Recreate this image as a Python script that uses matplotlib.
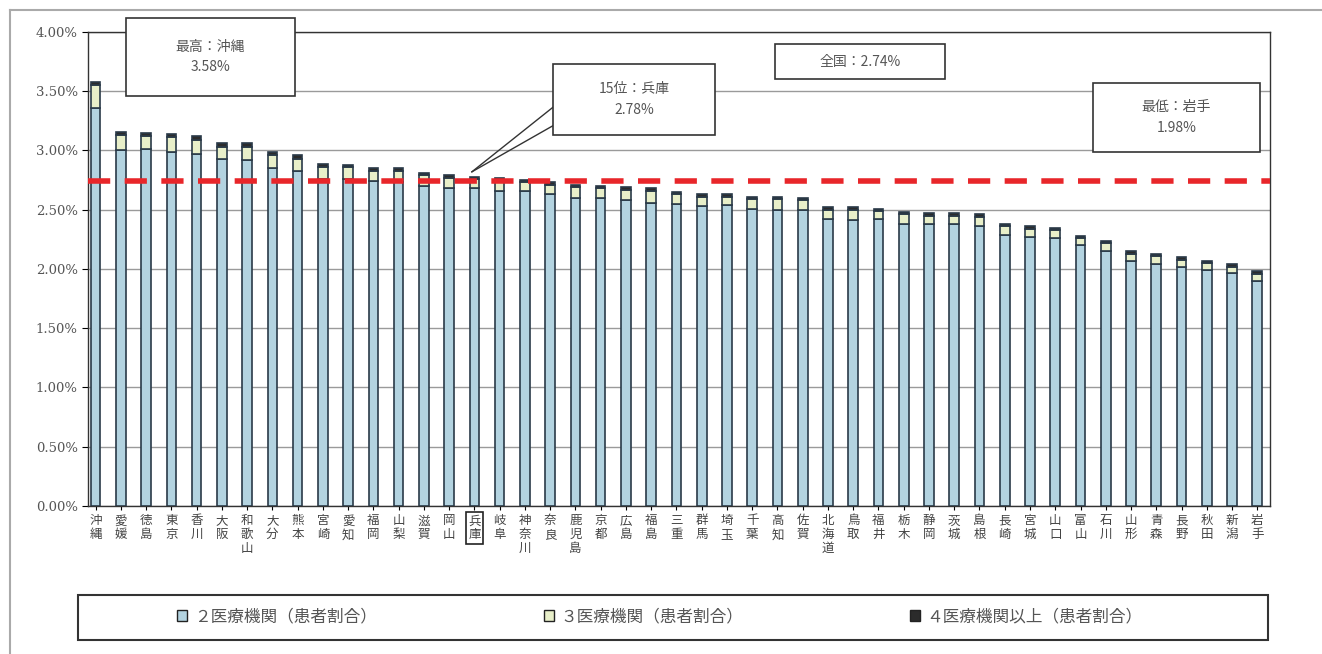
import matplotlib.pyplot as plt
from matplotlib.patches import Patch, Rectangle
from matplotlib.lines import Line2D

plt.rcParams["font.family"] = ["Noto Sans CJK JP", "DejaVu Sans"]

prefs = ["沖縄", "愛媛", "徳島", "東京", "香川", "大阪", "和歌山", "大分", "熊本", "宮崎",
         "愛知", "福岡", "山梨", "滋賀", "岡山", "兵庫", "岐阜", "神奈川", "奈良", "鹿児島",
         "京都", "広島", "福島", "三重", "群馬", "埼玉", "千葉", "高知", "佐賀", "北海道",
         "鳥取", "福井", "栃木", "静岡", "茨城", "島根", "長崎", "宮城", "山口", "富山",
         "石川", "山形", "青森", "長野", "秋田", "新潟", "岩手"]

# share of patients (%) by number of institutions visited
two_inst = [3.36, 3.00, 3.01, 2.99, 2.97, 2.93, 2.92, 2.85, 2.83, 2.76,
            2.76, 2.74, 2.73, 2.70, 2.68, 2.68, 2.66, 2.66, 2.63, 2.60,
            2.60, 2.58, 2.56, 2.55, 2.53, 2.54, 2.51, 2.50, 2.50, 2.42,
            2.41, 2.42, 2.38, 2.38, 2.38, 2.36, 2.29, 2.27, 2.26, 2.20,
            2.15, 2.07, 2.04, 2.02, 1.99, 1.97, 1.90]
three_inst = [0.19, 0.13, 0.11, 0.12, 0.12, 0.10, 0.11, 0.11, 0.10, 0.10,
              0.10, 0.09, 0.10, 0.09, 0.09, 0.08, 0.09, 0.07, 0.08, 0.09,
              0.08, 0.09, 0.10, 0.08, 0.08, 0.07, 0.08, 0.09, 0.08, 0.08,
              0.09, 0.07, 0.08, 0.07, 0.07, 0.08, 0.07, 0.07, 0.07, 0.06,
              0.07, 0.06, 0.07, 0.06, 0.06, 0.05, 0.06]
four_inst = [0.03, 0.03, 0.03, 0.03, 0.03, 0.03, 0.03, 0.03, 0.03, 0.03,
             0.02, 0.02, 0.02, 0.02, 0.02, 0.02, 0.02, 0.02, 0.02, 0.02,
             0.02, 0.02, 0.02, 0.02, 0.02, 0.02, 0.02, 0.02, 0.02, 0.02,
             0.02, 0.02, 0.02, 0.02, 0.02, 0.02, 0.02, 0.02, 0.02, 0.02,
             0.02, 0.02, 0.02, 0.02, 0.02, 0.02, 0.02]
national = 2.74
highlight = "兵庫"
highlight_rank = 15

legend_labels = ["２医療機関（患者割合）", "３医療機関（患者割合）", "４医療機関以上（患者割合）"]
colors = ["#b3d3e0", "#e8efc9", "#2b2b2b"]
edge = "#2a3a48"

W, H = 1322, 654
fig = plt.figure(figsize=(W / 100, H / 100), dpi=100)
ax = fig.add_axes([0.0666, 0.2263, 0.894, 0.7248])

x = list(range(len(prefs)))
w = 0.38
bottom4 = [a + b for a, b in zip(two_inst, three_inst)]
totals = [a + b + c for a, b, c in zip(two_inst, three_inst, four_inst)]
ax.bar(x, two_inst, w, color=colors[0], edgecolor=edge, linewidth=1.2, zorder=3)
ax.bar(x, three_inst, w, bottom=two_inst, color=colors[1], edgecolor=edge, linewidth=1.2, zorder=3)
ax.bar(x, four_inst, w, bottom=bottom4, color=colors[2], edgecolor=edge, linewidth=1.2, zorder=3)

ax.axhline(national, color="#e8262a", lw=4, dashes=(4, 2.6), zorder=4)

ax.set_xlim(-0.3, 46.5)
ax.set_ylim(0, 4.0)
yt = [i * 0.5 for i in range(9)]
ax.set_yticks(yt)
ax.set_yticklabels([f"{v:.2f}%" for v in yt], fontsize=9.5, color="#555555",
                   family=["DejaVu Serif"])
ax.yaxis.grid(True, color="#9a9a9a", lw=1, zorder=0)
ax.set_xticks(x)
ax.set_xticklabels(["\n".join(p) for p in prefs], fontsize=9, color="#444444",
                   linespacing=1.1, va="top")
ax.tick_params(axis="x", length=3, pad=3)
ax.tick_params(axis="y", length=4)
for s in ax.spines.values():
    s.set_color("#333333")
    s.set_linewidth(1)
for lbl in ax.get_xticklabels():
    if lbl.get_text().replace("\n", "") == highlight:
        lbl.set_bbox(dict(boxstyle="square,pad=0.2", fc="none", ec="#222222", lw=1.2))


def note(cx, cy, wd, ht, text):
    ax.add_patch(Rectangle((cx - wd / 2, cy - ht / 2), wd, ht, fc="white", ec="#333333",
                           lw=1.2, clip_on=False, zorder=6))
    ax.text(cx, cy, text, ha="center", va="center", fontsize=10, color="#555555",
            linespacing=1.6, zorder=7)


imax = totals.index(max(totals))
imin = totals.index(min(totals))
ih = prefs.index(highlight)
note(4.55, 3.79, 6.7, 0.66, f"最高：{prefs[imax]}\n{totals[imax]:.2f}%")
note(21.33, 3.43, 6.4, 0.60, f"{highlight_rank}位：{highlight}\n{totals[ih]:.2f}%")
note(30.27, 3.75, 6.7, 0.30, f"全国：{national:.2f}%")
note(42.8, 3.28, 6.6, 0.58, f"最低：{prefs[imin]}\n{totals[imin]:.2f}%")

# callout wedge for highlighted prefecture
for yy in (3.38, 3.22):
    ax.plot([18.2, ih - 0.1], [yy, totals[ih] + 0.04], color="#333333", lw=1, zorder=5,
            clip_on=False)

# legend: frame drawn separately so it spans the full width
fig.add_artist(Rectangle((78 / W, 1 - 640 / H), 1190 / W, 45 / H, transform=fig.transFigure,
                         fc="white", ec="#333333", lw=1.5))
handles = [Patch(fc=c, ec="#222222", lw=1) for c in colors]
fig.legend(handles, legend_labels, loc="center", ncol=3,
           bbox_to_anchor=(660 / W, 1 - 617 / H),
           fontsize=12, frameon=False, columnspacing=10,
           handlelength=0.6, handleheight=0.6, handletextpad=0.4, labelcolor="#555555")

# outer frame
fig.add_artist(Line2D([10 / W, 10 / W], [0, 1 - 10 / H], color="#aaaaaa", lw=1.5))
fig.add_artist(Line2D([10 / W, 1], [1 - 10 / H, 1 - 10 / H], color="#aaaaaa", lw=1.5))

fig.savefig("out.png", dpi=100)
